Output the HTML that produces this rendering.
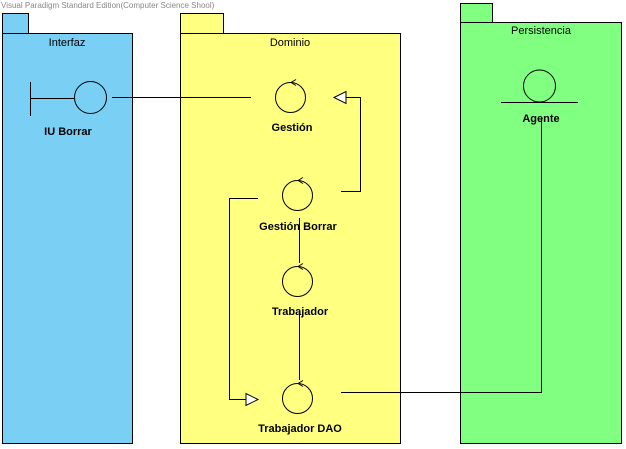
<!DOCTYPE html>
<html><head><meta charset="utf-8"><style>body{margin:0;background:#fff}svg{display:block}</style></head><body>
<svg width="626" height="449" xmlns="http://www.w3.org/2000/svg" font-family="Liberation Sans, Arial, sans-serif">
<text x="1" y="8" font-size="8" fill="#888">Visual Paradigm Standard Edition(Computer Science Shool)</text>
<g stroke="#000" stroke-width="1">
<rect x="2.5" y="13.5" width="26" height="20" fill="#7acff5"/>
<rect x="2.5" y="33.5" width="130" height="410" fill="#7acff5"/>
<rect x="180.5" y="13.5" width="43" height="20" fill="#ffff80"/>
<rect x="180.5" y="33.5" width="220" height="410" fill="#ffff80"/>
<rect x="460.5" y="3.5" width="32" height="19" fill="#80ff80"/>
<rect x="460.5" y="22.5" width="161" height="421" fill="#80ff80"/>
</g>
<g font-size="11" fill="#000" text-anchor="middle">
<text x="67" y="46">Interfaz</text>
<text x="290" y="46">Dominio</text>
<text x="541" y="34">Persistencia</text>
</g>
<g stroke="#000" stroke-width="1" fill="none">
<line x1="30.5" y1="82" x2="30.5" y2="116"/>
<line x1="30" y1="98.5" x2="74" y2="98.5"/>
<circle cx="90.5" cy="97.5" r="16"/>
<line x1="112" y1="97.5" x2="251" y2="97.5"/>
<circle cx="290.5" cy="97.5" r="15"/>
<path d="M291 82.5 l5 -3 M291 82.5 l5 3"/>
<circle cx="297.5" cy="195.5" r="15"/>
<path d="M298 180.5 l5 -3 M298 180.5 l5 3"/>
<circle cx="297.5" cy="281.5" r="15"/>
<path d="M298 266.5 l5 -3 M298 266.5 l5 3"/>
<circle cx="297.5" cy="398.5" r="15"/>
<path d="M298 383.5 l5 -3 M298 383.5 l5 3"/>
<circle cx="539.5" cy="86" r="16"/>
<line x1="501" y1="102.5" x2="578" y2="102.5"/>
<path d="M541.5 118 V392.5 H341"/>
<path d="M341 191.5 H360.5 V97.5 H346"/>
<path d="M258 198.5 H229.5 V399.5 H246"/>
<line x1="299.5" y1="218" x2="299.5" y2="263"/>
<line x1="299.5" y1="312" x2="299.5" y2="380"/>
</g>
<polygon points="334,97.5 346,91.5 346,103.5" fill="#fff" stroke="#000"/>
<polygon points="258,399.5 246,393.5 246,405.5" fill="#fff" stroke="#000"/>
<g font-size="11" font-weight="bold" fill="#000" text-anchor="middle">
<text x="68" y="135">IU Borrar</text>
<text x="292" y="131">Gestión</text>
<text x="298" y="230">Gestión Borrar</text>
<text x="300" y="315">Trabajador</text>
<text x="300" y="432">Trabajador DAO</text>
<text x="541" y="122">Agente</text>
</g>
</svg>
</body></html>
